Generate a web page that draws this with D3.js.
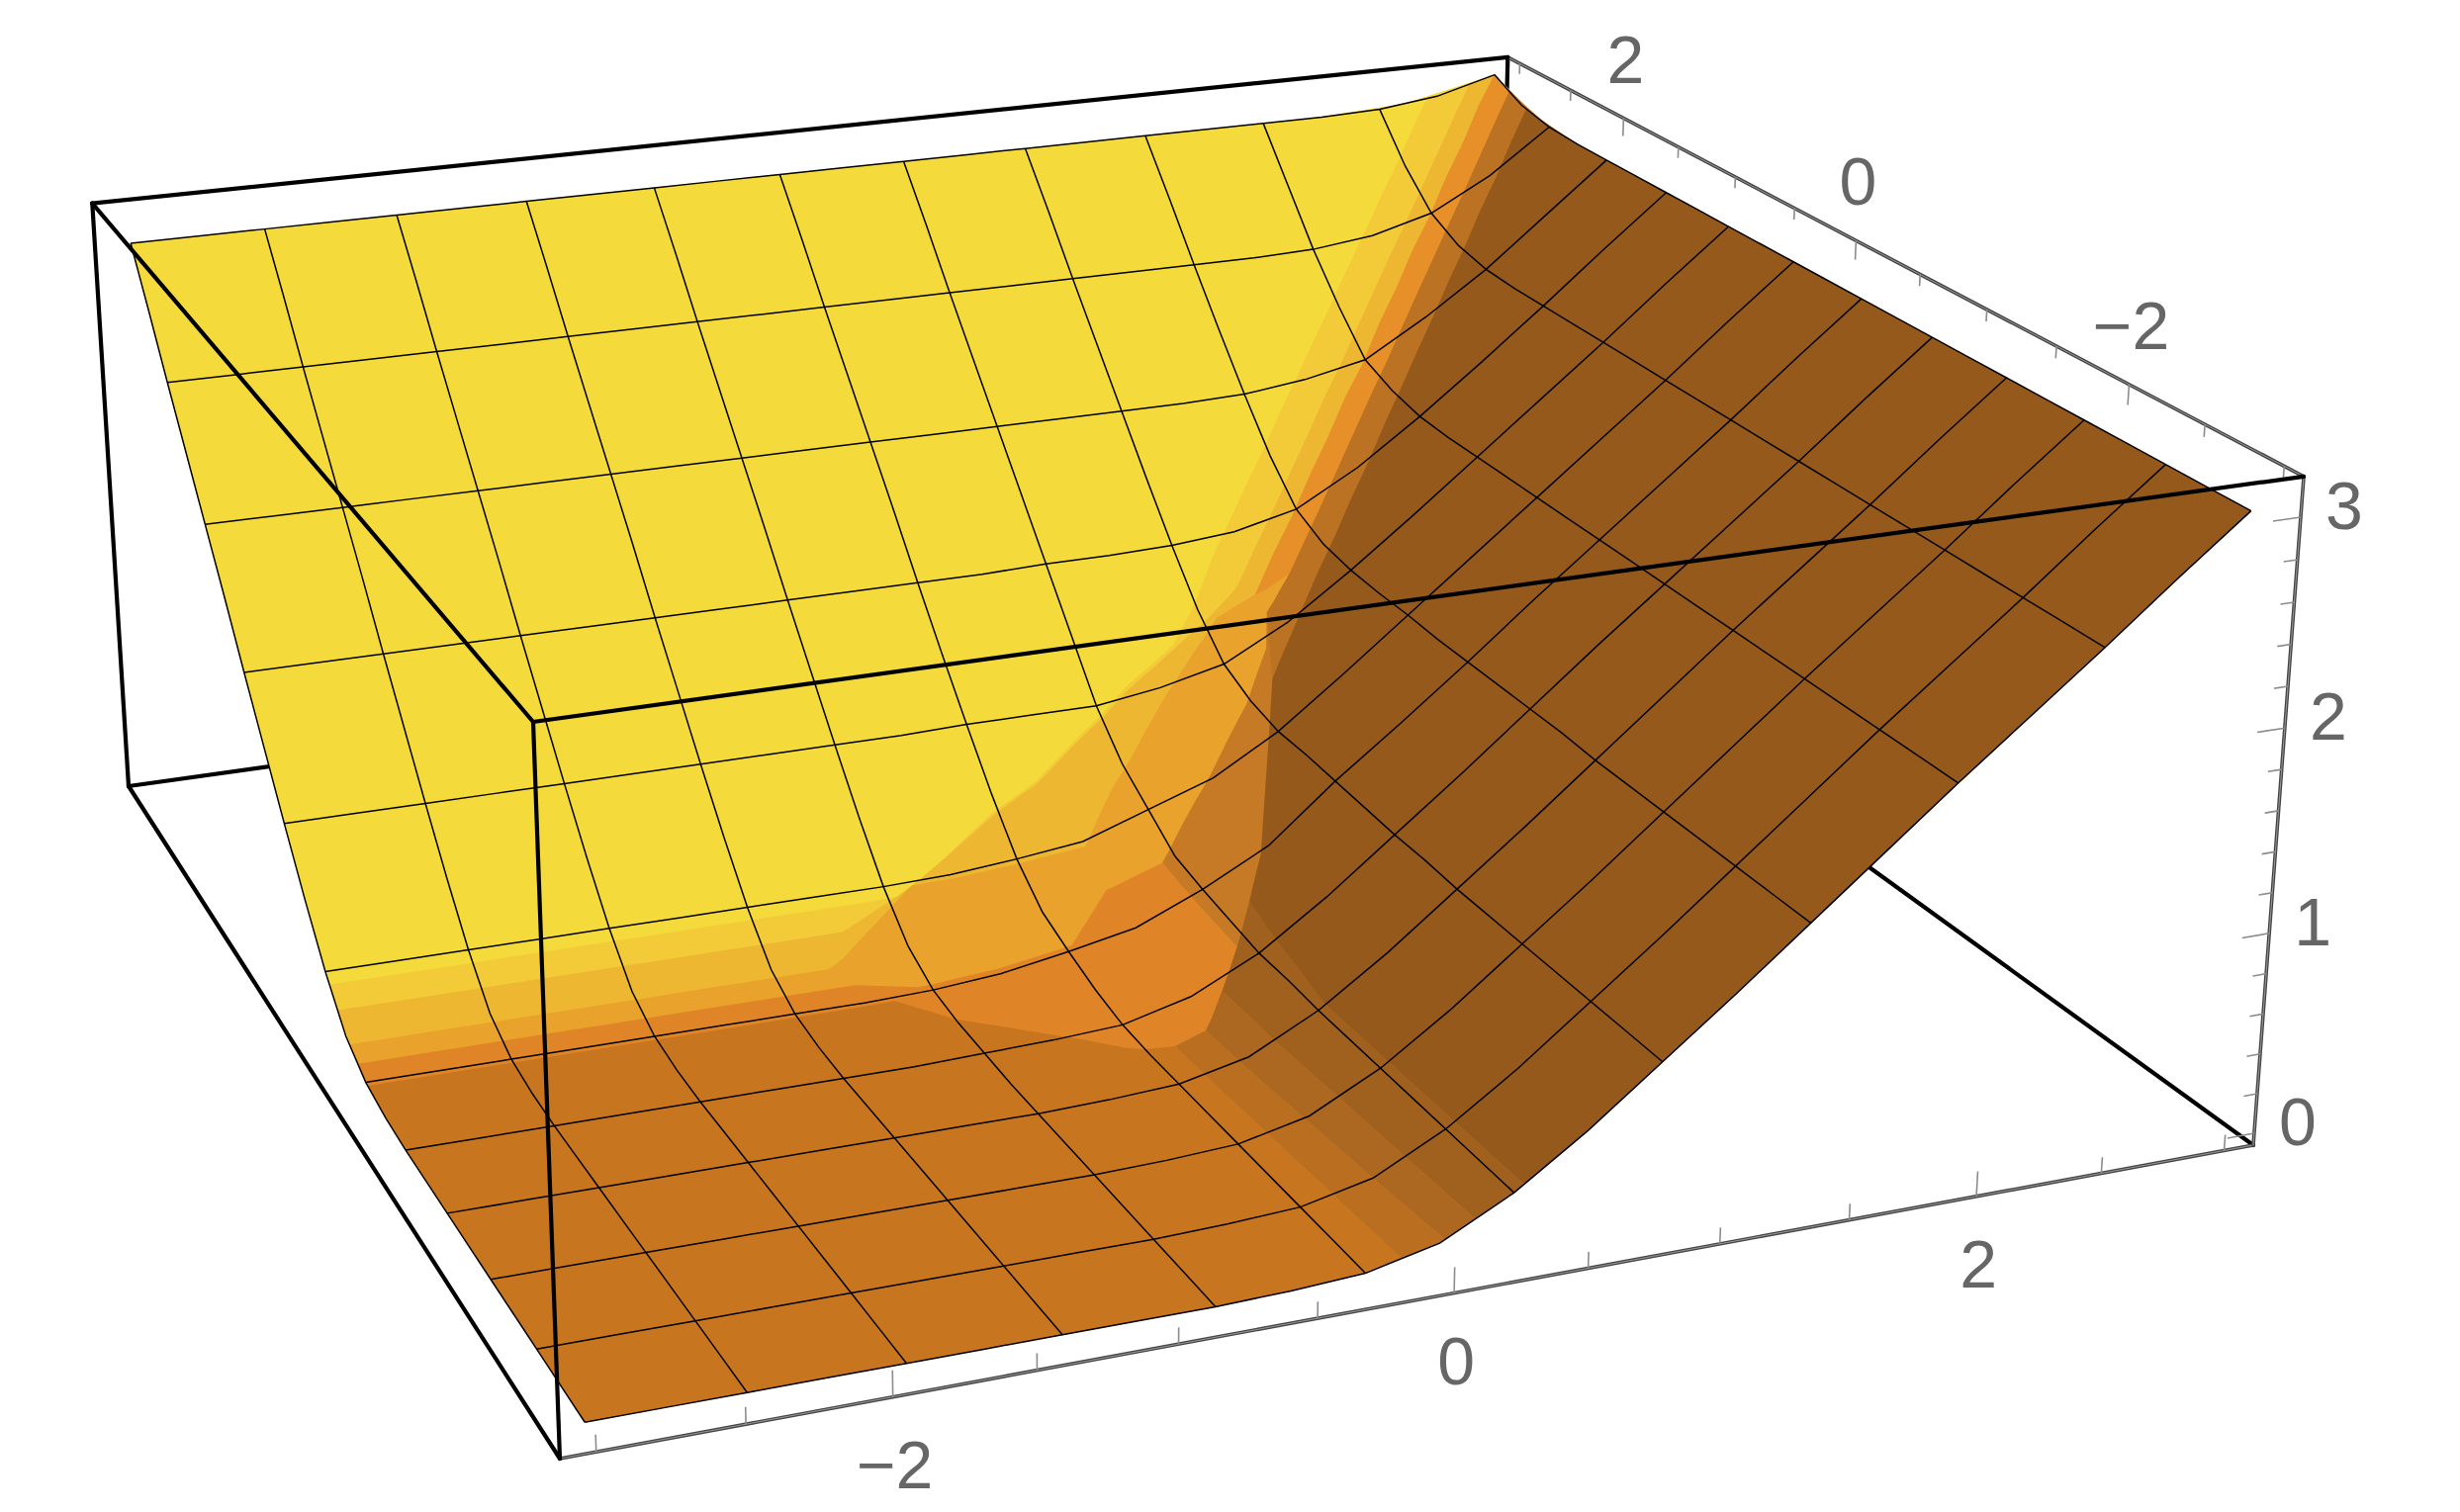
<!DOCTYPE html>
<html>
<head>
<meta charset="utf-8">
<script src="https://d3js.org/d3.v7.min.js"></script>
<style>
  body { margin: 0; background: #fff; }
  svg { display:block; }
</style>
</head>
<body>
<div id="chart"></div>
<script>
// grid the surface heights are read on, x along the columns, y along the rows
const gridVals = [-3,-2.727,-2.455,-2.182,-1.909,-1.636,-1.364,-1.091,-0.818,-0.545,-0.273,0,0.273,0.545,0.818,1.091,1.364,1.636,1.909,2.182,2.455,2.727,3];

const zRows = [
  [0,0,0,0,0,0,0,0,0,.01,.03,.11,.29,.53,.80,1.07,1.35,1.63,1.91,2.18,2.45,2.73,3],
  [0,0,0,0,0,0,0,0,0,.01,.03,.11,.29,.53,.80,1.07,1.35,1.63,1.91,2.18,2.45,2.73,3],
  [0,0,0,0,0,0,0,0,0,.01,.03,.11,.29,.53,.80,1.07,1.35,1.63,1.91,2.18,2.45,2.73,3],
  [0,0,0,0,0,0,0,0,0,.01,.03,.11,.29,.53,.80,1.07,1.35,1.63,1.91,2.18,2.45,2.73,3],
  [0,0,0,0,0,0,0,0,0,.01,.03,.11,.29,.53,.80,1.07,1.35,1.63,1.91,2.18,2.45,2.73,3],
  [0,0,0,0,0,0,0,0,0,.01,.03,.11,.29,.53,.80,1.07,1.35,1.63,1.91,2.18,2.45,2.73,3],
  [0,0,0,0,0,0,0,0,0,.01,.03,.11,.29,.53,.80,1.07,1.35,1.63,1.91,2.18,2.45,2.73,3],
  [0,0,0,0,0,0,0,0,0,.01,.03,.12,.30,.54,.81,1.08,1.36,1.64,1.91,2.18,2.45,2.73,3],
  [0,0,0,0,0,0,0,0,.01,.02,.04,.13,.30,.54,.81,1.08,1.36,1.64,1.91,2.18,2.45,2.73,3],
  [.01,.01,.01,.01,.01,.01,.01,.01,.02,.04,.08,.17,.33,.55,.82,1.09,1.36,1.64,1.91,2.18,2.45,2.73,3],
  [.04,.04,.04,.04,.04,.04,.04,.04,.05,.08,.14,.21,.36,.54,.83,1.09,1.36,1.64,1.91,2.18,2.45,2.73,3],
  [.13,.13,.13,.13,.13,.13,.13,.13,.14,.17,.21,.28,.40,.58,.84,1.10,1.36,1.64,1.91,2.18,2.45,2.73,3],
  [.32,.32,.32,.32,.32,.32,.32,.32,.32,.33,.36,.40,.52,.64,.84,1.10,1.37,1.64,1.91,2.18,2.45,2.73,3],
  [.56,.56,.56,.56,.56,.56,.56,.56,.56,.56,.58,.60,.64,.71,.88,1.11,1.37,1.64,1.91,2.18,2.45,2.73,3],
  [.82,.82,.82,.82,.82,.82,.82,.82,.82,.82,.83,.83,.83,.88,.96,1.14,1.38,1.64,1.91,2.18,2.45,2.73,3],
  [1.09,1.09,1.09,1.09,1.09,1.09,1.09,1.09,1.09,1.09,1.09,1.10,1.10,1.11,1.14,1.23,1.41,1.65,1.91,2.18,2.45,2.73,3],
  [1.36,1.36,1.36,1.36,1.36,1.36,1.36,1.36,1.36,1.36,1.36,1.36,1.37,1.37,1.38,1.41,1.49,1.68,1.92,2.18,2.45,2.73,3],
  [1.64,1.64,1.64,1.64,1.64,1.64,1.64,1.64,1.64,1.64,1.64,1.64,1.64,1.64,1.64,1.65,1.68,1.77,1.96,2.19,2.45,2.73,3],
  [1.91,1.91,1.91,1.91,1.91,1.91,1.91,1.91,1.91,1.91,1.91,1.91,1.91,1.91,1.91,1.91,1.92,1.96,2.03,2.23,2.46,2.73,3],
  [2.18,2.18,2.18,2.18,2.18,2.18,2.18,2.18,2.18,2.18,2.18,2.18,2.18,2.18,2.18,2.18,2.18,2.19,2.23,2.32,2.50,2.74,3],
  [2.45,2.45,2.45,2.45,2.45,2.45,2.45,2.45,2.45,2.45,2.45,2.45,2.45,2.45,2.45,2.45,2.45,2.45,2.46,2.50,2.59,2.77,3.01],
  [2.73,2.73,2.73,2.73,2.73,2.73,2.73,2.73,2.73,2.73,2.73,2.73,2.73,2.73,2.73,2.73,2.73,2.73,2.73,2.74,2.77,2.87,3.05],
  [3,3,3,3,3,3,3,3,3,3,3,3,3,3,3,3,3,3,3,3,3.01,3.05,3.14]
];

const meshVals = [-3,-2.455,-1.909,-1.364,-0.818,-0.273,0.273,0.818,1.364,1.909,2.455,3];

// shading bands of the surface, in x,y data, painted one over the other
const yellow = "#f5da3c";
const bands = [
  {color:"#f3cb38", pts:[[-3,.218],[-.775,.218],[-.3,.47],[-.08,.56],[.41,.855],[.66,.965],[.82,1.12],[1,1.32],[2.68,3],[3,3],[3,-3],[-3,-3]]},
  {color:"#edb732", pts:[[-3,.109],[-1.04,.109],[-.76,.23],[-.3,.46],[-.08,.55],[.41,.84],[.66,.95],[.87,1.05],[1,1.12],[2.88,3],[3,3],[3,-3],[-3,-3]]},
  {color:"#e9a22b", pts:[[-3,-.05],[-1.15,-.05],[-.71,.256],[0,.245],[.19,.44],[.545,.77],[.87,1.02],[1.05,1.05],[3,3],[3,-3],[-3,-3]]},
  {color:"#e79029", pts:[[1.05,1.05],[3,3],[3,2.85],[1.2,1.05]]},
  {color:"#e08527", pts:[[-3,-.164],[-1.09,-.164],[-.87,-.24],[-.25,-.245],[-.01,0],[.22,0],[.23,-.71],[.16,-3],[-3,-3]]},
  {color:"#c8751f", pts:[[-3,-3],[-3,-.3],[-.98,-.3],[-.82,-.51],[-.61,-.71],[-.46,-.85],[-.33,-1],[-.18,-1.1],[-.14,-3]]},
  {color:"#c67a25", pts:[[.23,-.71],[.22,0],[.49,.245],[.8,.545],[.97,.75],[1.05,.93],[1.2,1.05],[3,2.85],[3,-3],[.16,-3]]},
  {color:"#bb7323", pts:[[1.05,.93],[1.2,1.05],[3,2.85],[3,2.68],[1.15,.82],[.92,.57]]},
  {color:"#b96e20", pts:[[-.18,-1.1],[-.05,-1.08],[.02,-3],[-.14,-3]]},
  {color:"#ac6720", pts:[[-.05,-1.08],[.09,-.9],[.13,-3],[.02,-3]]},
  {color:"#a1611e", pts:[[.09,-.9],[.23,-.71],[.36,-.52],[.3,-1.36],[.31,-3],[.13,-3]]},
  {color:"#96591c", pts:[[.31,-3],[.3,-1.36],[.36,-.52],[.5,-.3],[.68,.07],[.82,.36],[.92,.57],[1.15,.82],[3,2.68],[3,-3]]}
];

const xMajor = [-2,0,2];
const xMinor = [-3,-2.5,-1.5,-1,-0.5,0.5,1,1.5,2.5,3];
const yMajor = [2,0,-2];
const yMinor = [3,2.5,1.5,1,0.5,-0.5,-1,-1.5,-2.5,-3];
const zMajor = [0,1,2,3];
const zMinor = [0.2,0.4,0.6,0.8,1.2,1.4,1.6,1.8,2.2,2.4,2.6,2.8];

const width = 2487, height = 1529;

const svg = d3.select("#chart").append("svg")
    .attr("width", width)
    .attr("height", height);

var x = d3.scaleLinear().domain([-3.12,3.12]).range([0,1]);
var y = d3.scaleLinear().domain([-3.12,3.12]).range([0,1]);
var z = d3.scaleLinear().domain([-0.06,3.19]).range([0,1]);
var gridIndex = d3.scaleLinear().domain([-3,3]).range([0,22]);

// perspective camera of the box: the corner at the origin of the unit cube,
// its three neighbours on screen and their weights
const cam = {
  o:[566,1475], ex:[2278,1158], ey:[130,795], ez:[539,730],
  wx:1.119, wy:1.306, wz:0.953
};

function project(px, py, pz){
  const u = x(px), v = y(py), w = z(pz);
  const den = 1 + u*(cam.wx-1) + v*(cam.wy-1) + w*(cam.wz-1);
  const sx = cam.o[0] + u*(cam.wx*cam.ex[0]-cam.o[0]) + v*(cam.wy*cam.ey[0]-cam.o[0]) + w*(cam.wz*cam.ez[0]-cam.o[0]);
  const sy = cam.o[1] + u*(cam.wx*cam.ex[1]-cam.o[1]) + v*(cam.wy*cam.ey[1]-cam.o[1]) + w*(cam.wz*cam.ez[1]-cam.o[1]);
  return [sx/den, sy/den];
}

function height3d(px, py){
  const fx = gridIndex(px), fy = gridIndex(py);
  const i = Math.min(Math.floor(fx),21), j = Math.min(Math.floor(fy),21);
  const a = fx-i, b = fy-j;
  return (1-a)*(1-b)*zRows[j][i] + a*(1-b)*zRows[j][i+1] + (1-a)*b*zRows[j+1][i] + a*b*zRows[j+1][i+1];
}

const onSurface = d => project(d[0], d[1], height3d(d[0], d[1]));

// walk a closed x,y outline in small steps so it follows the surface
function densify(pts){
  const out = [];
  for(let k=0; k<pts.length; k++){
    const p = pts[k], q = pts[(k+1)%pts.length];
    for(let s=0; s<14; s++){
      out.push([p[0]+(q[0]-p[0])*s/14, p[1]+(q[1]-p[1])*s/14]);
    }
  }
  return out;
}

const line = d3.line();
const xLo = x.domain()[0], xHi = x.domain()[1];
const yLo = y.domain()[0], yHi = y.domain()[1];
const zLo = z.domain()[0], zHi = z.domain()[1];

function edge(a, b, cls){
  return svg.append("path").attr("class",cls)
      .attr("d", line([project(...a), project(...b)]))
      .attr("fill","none")
      .attr("stroke-linecap","round");
}

// back of the box, behind the surface
const backEdges = [
  [[xLo,yHi,zLo],[xHi,yHi,zLo]],
  [[xHi,yHi,zLo],[xHi,yLo,zLo]],
  [[xHi,yHi,zLo],[xHi,yHi,zHi]]
];
backEdges.forEach(e=>{
  edge(e[0],e[1],"back").attr("stroke","#000").attr("stroke-width",4.2);
});

// axes with their ticks
const axisEdges = [
  [[xLo,yLo,zLo],[xHi,yLo,zLo]],
  [[xHi,yHi,zHi],[xHi,yLo,zHi]],
  [[xHi,yLo,zLo],[xHi,yLo,zHi]]
];
axisEdges.forEach(e=>{
  edge(e[0],e[1],"axis").attr("stroke","#444").attr("stroke-width",3.6);
  edge(e[0],e[1],"axis").attr("stroke","#999").attr("stroke-width",1);
});

function tick(a, b){
  svg.append("path").attr("class","tick")
      .attr("d", line([project(...a), project(...b)]))
      .attr("fill","none").attr("stroke","#8c8c8c").attr("stroke-width",1.6);
}
xMajor.forEach(t=>tick([t,yLo,zLo],[t,yLo,zLo+0.125]));
xMinor.forEach(t=>tick([t,yLo,zLo],[t,yLo,zLo+0.08]));
yMajor.forEach(t=>tick([xHi,t,zHi],[xHi,t,zHi-0.1]));
yMinor.forEach(t=>tick([xHi,t,zHi],[xHi,t,zHi-0.06]));
zMajor.forEach(t=>tick([xHi,yLo,t],[xHi-0.11,yLo,t]));
zMinor.forEach(t=>tick([xHi,yLo,t],[xHi-0.055,yLo,t]));

// surface: base, shading bands, then mesh lines
const square = [[-3,-3],[3,-3],[3,3],[-3,3]];
svg.append("path")
    .attr("d", line(densify(square).map(onSurface))+"Z")
    .attr("fill", yellow);

svg.append("g").selectAll("path")
    .data(bands)
    .enter().append("path")
    .attr("d", d=>line(densify(d.pts).map(onSurface))+"Z")
    .attr("fill", d=>d.color);

const meshG = svg.append("g").attr("fill","none").attr("stroke","#000").attr("stroke-width",1.5);
meshVals.forEach(m=>{
  meshG.append("path").attr("d", line(gridVals.map(g=>onSurface([m,g]))));
  meshG.append("path").attr("d", line(gridVals.map(g=>onSurface([g,m]))));
});

// front of the box, over the surface
const frontEdges = [
  [[xLo,yHi,zHi],[xHi,yHi,zHi]],
  [[xLo,yHi,zHi],[xLo,yLo,zHi]],
  [[xLo,yLo,zHi],[xHi,yLo,zHi]],
  [[xLo,yLo,zHi],[xLo,yLo,zLo]],
  [[xLo,yHi,zHi],[xLo,yHi,zLo]],
  [[xLo,yHi,zLo],[xLo,yLo,zLo]]
];
frontEdges.forEach(e=>{
  edge(e[0],e[1],"front").attr("stroke","#000").attr("stroke-width",4.2);
});

// tick labels
function label(pos, txt, dx, dy){
  const p = project(...pos);
  svg.append("text")
      .attr("x", p[0]+dx).attr("y", p[1]+dy)
      .attr("text-anchor","middle")
      .attr("dominant-baseline","central")
      .attr("font-family","'Liberation Sans', Arial, sans-serif")
      .attr("font-size",68)
      .attr("fill","#666")
      .text(txt);
}
const fmt = t => (t<0 ? "\u2212"+(-t) : ""+t);
xMajor.forEach(t=>label([t,yLo,zLo], fmt(t), 2, 68));
yMajor.forEach(t=>label([xHi,t,zHi], fmt(t), 2, -60));
zMajor.forEach(t=>label([xHi,yLo,t], fmt(t), 44, -12));
</script>
</body>
</html>
